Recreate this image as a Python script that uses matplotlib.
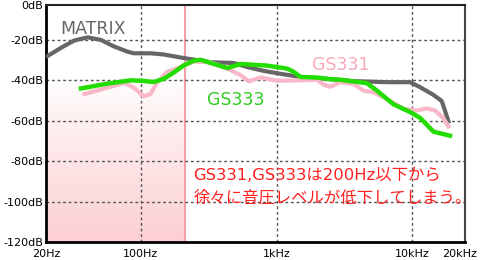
import numpy as np
import matplotlib
matplotlib.use("Agg")
import matplotlib.pyplot as plt

plt.rcParams['font.family'] = ['DejaVu Sans', 'Noto Sans CJK JP']

# ---- data ----
matrix_f = [20.6, 25.8, 32.2, 40.6, 50.8, 63.3, 79.8, 88.8, 118, 148, 197, 233, 327, 483, 609, 802,
            1126, 1580, 2490, 3680, 6520, 9670, 11450, 14270, 16500, 17480, 18500]
matrix_db = [-27.9, -23.9, -20.3, -18.7, -20, -23.2, -25.8, -26.6, -26.6, -27.2, -28.7, -29.5, -31, -31.4, -33.4, -35.3,
             -37, -38.5, -39.4, -40.4, -40.9, -40.9, -43.4, -47.1, -50.2, -55.2, -60.3]

gs331_f = [38.3, 56.9, 75.4, 88.8, 105, 118, 133, 157, 197, 245, 327, 434, 543, 625, 762, 1010, 1500, 1991,
           2216, 2490, 2950, 3680, 4380, 5190, 6520, 8630, 10830, 12830, 14760, 16900, 18500]
gs331_db = [-46.8, -43.6, -41.3, -43.6, -47.9, -46.8, -40.5, -35.7, -33.4, -30.7, -31, -34.2, -37.4, -40.5, -38.6, -40.2, -40, -39.7,
            -42.1, -43.2, -40.9, -41.7, -45.1, -45.9, -49.3, -54.1, -54.9, -53.9, -54.9, -58.6, -62.8]

gs333_f = [36.2, 56.9, 84.4, 100, 125, 148, 175, 207, 245, 276, 327, 434, 543, 854, 1200, 1334, 1500, 1991,
           2490, 2950, 4640, 5500, 7290, 9670, 11450, 14370, 19000]
gs333_db = [-44, -41.6, -40, -40.2, -40.8, -39.2, -36.1, -32.6, -30.3, -29.8, -31.4, -33.9, -31.9, -32.7, -34.2, -35.7, -38.3, -38.6,
            -39.4, -39.7, -41.4, -45.1, -51.9, -55.7, -58.6, -65.4, -67.4]

xticks = [20, 100, 1000, 10000, 22500]
xtick_labels = ["20Hz", "100Hz", "1kHz", "10kHz", "20kHz"]
y_top = -2.7
yticks = [y_top, -20, -40, -60, -80, -100, -120]
ytick_labels = ["0dB", "-20dB", "-40dB", "-60dB", "-80dB", "-100dB", "-120dB"]
grid_y = [-20, -40, -60, -80, -100]
grid_x = [100, 1000, 10000]
shade_limit = 212

fig = plt.figure(figsize=(4.8, 2.6), dpi=100)
ax = fig.add_axes([46/480, 1-242/260, (465-46)/480, (242-5)/260])
ax.set_xscale('log')
ax.set_xlim(20, 24500)
ax.set_ylim(-120, y_top)

# gradient shaded region: white at the top, pink at the bottom
n = 256
t = np.linspace(0, 1, n)
t = np.clip((t - 0.30) / 0.70, 0, 1) ** 0.9
top = np.array([1.0, 1.0, 1.0])
bot = np.array([252, 208, 211]) / 255
img = (top[None, :] + (bot - top)[None, :] * t[:, None]).reshape(n, 1, 3)
ax.imshow(img, extent=[20, shade_limit, -120, y_top], aspect='auto', origin='upper', zorder=0,
          interpolation='bilinear')
ax.axvline(shade_limit, color='#f4a0aa', lw=1.5, zorder=1)

# grid
for yv in grid_y:
    ax.axhline(yv, color='#555555', lw=1, ls=(0, (2, 2)), zorder=1)
for xv in grid_x:
    ax.axvline(xv, color='#555555', lw=1, ls=(0, (2, 2)), zorder=1)

# curves
ax.plot(matrix_f, matrix_db, color='#666666', lw=3, zorder=3, solid_joinstyle='round')
ax.plot(gs331_f, gs331_db, color='#f9b8c8', lw=3, zorder=4, solid_joinstyle='round')
ax.plot(gs333_f, gs333_db, color='#22dd00', lw=3.2, zorder=5, solid_joinstyle='round')

ax.set_xticks(xticks)
ax.set_xticklabels(xtick_labels, fontsize=8)
ax.set_yticks(yticks)
ax.set_yticklabels(ytick_labels, fontsize=8)
ax.minorticks_off()
ax.tick_params(axis='both', length=0, colors='black')
ax.tick_params(axis='x', pad=5)
ax.tick_params(axis='y', pad=2)

for side in ['left', 'bottom']:
    ax.spines[side].set_linewidth(2)
    ax.spines[side].set_color('black')
ax.spines['top'].set_linewidth(1.5)
ax.spines['top'].set_color('#222222')
ax.spines['right'].set_linewidth(1.5)
ax.spines['right'].set_color('#444444')

# labels
ax.text(0.035, 0.90, "MATRIX", transform=ax.transAxes, color='#666666', fontsize=12.5, va='center', ha='left')
ax.text(0.635, 0.745, "GS331", transform=ax.transAxes, color='#f9a8b8', fontsize=12.5, va='center', ha='left')
ax.text(0.385, 0.60, "GS333", transform=ax.transAxes, color='#33cc22', fontsize=12.5, va='center', ha='left')
ax.text(0.352, 0.235, "GS331,GS333は200Hz以下から\n徐々に音圧レベルが低下してしまう。", transform=ax.transAxes,
        color='#ff2020', fontsize=11.8, va='center', ha='left', linespacing=1.55,
        family=['DejaVu Sans', 'Noto Sans CJK JP'])

fig.savefig('out.png', dpi=100)
